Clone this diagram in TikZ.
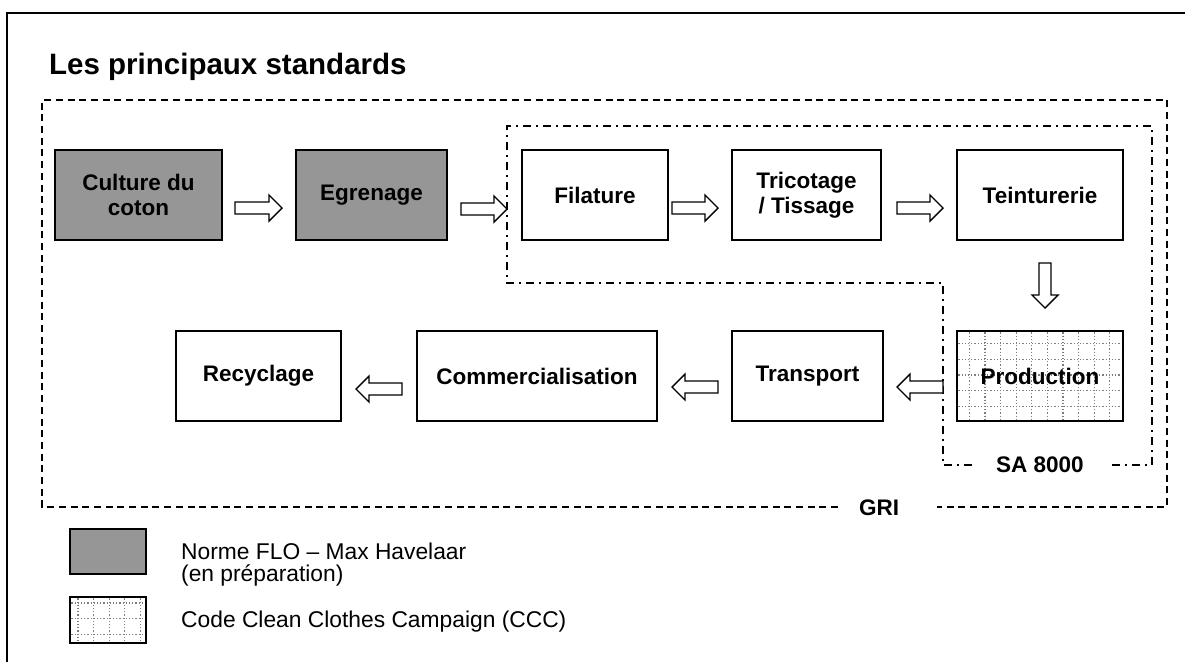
\documentclass[tikz,border=0pt]{standalone}
\usepackage{fontspec}
\setmainfont{Liberation Sans}
\usetikzlibrary{calc}
\definecolor{flogray}{RGB}{150,150,150}
\definecolor{dotgray}{RGB}{125,125,125}

\tikzset{
  stagebox/.style={draw, line width=1.5pt, fill=white, minimum height=90pt,
    inner sep=2pt, align=center, font=\fontsize{22.5}{25}\selectfont\bfseries},
  flobox/.style={stagebox, fill=flogray},
  gridline/.style={draw=dotgray, line width=1.2pt, dash pattern=on 1.2pt off 2pt},
  gridfill/.style n args={2}{path picture={
      \foreach \i in {0,...,11} {
        \draw[gridline] ($(path picture bounding box.north west)+({#1+\i*15.6},-5)$) -- ++(0,120);
      }
      \foreach \j in {0,...,6} {
        \draw[gridline] ($(path picture bounding box.north west)+(-5,{#2+\j*15.6})$) -- ++(220,0);
      }
  }},
  arrowline/.style={draw, line width=1.4pt, fill=white, line join=miter},
  griline/.style={line width=1.3pt, dash pattern=on 7pt off 4.7pt},
  saline/.style={line width=1.3pt, dash pattern=on 8pt off 5pt on 2pt off 5pt},
  lbl/.style={font=\fontsize{22.5}{25}\selectfont\bfseries, inner sep=0pt},
  legtext/.style={font=\fontsize{22.8}{25}\selectfont, inner sep=0pt, anchor=base west},
}

\newcommand{\hollowarrow}[3]{%
  \begin{scope}[shift={(#1)}, rotate=#2]
    \draw[arrowline] (0,-6) -- ({#3-13},-6) -- ({#3-13},-13) -- (#3,0)
      -- ({#3-13},13) -- ({#3-13},6) -- (0,6) -- cycle;
  \end{scope}}

\begin{document}
\begin{tikzpicture}[x=1pt, y=-1pt]
  \useasboundingbox (0,0) rectangle (1185,662);
  \fill[white] (0,0) rectangle (1185,662);

  % outer frame (only left and top visible)
  \draw[line width=2pt] (7,662) -- (7,13) -- (1185,13);

  % title
  \node[anchor=base west, inner sep=0pt, font=\fontsize{29.5}{32}\selectfont\bfseries] (title) at (49,74) {Les principaux standards};

  % GRI boundary
  \draw[griline] (838,507) -- (42,507) -- (42,100) -- (1167,100) -- (1167,507) -- (937,507);
  \node[lbl] (gri) at (879,508) {GRI};

  % SA 8000 boundary
  \draw[saline] (972,465) -- (943,465) -- (943,283) -- (507,283) -- (507,126) -- (1152,126) -- (1152,465) -- (1108,465);
  \node[lbl] (sa) at (1040,465) {SA 8000};

  % row 1
  \node[flobox, minimum width=167pt] (cult) at (138.5,195) {Culture du\\coton};
  \node[flobox, minimum width=151pt] (egr) at (371.5,195) {Egrenage};
  \node[stagebox, minimum width=146pt] (fil) at (595,195) {Filature};
  \node[stagebox, minimum width=149pt] (tri) at (806.5,195) {Tricotage\\/ Tissage};
  \node[stagebox, minimum width=166pt] (tei) at (1040,195) {Teinturerie};

  % row 2
  \node[stagebox, minimum width=165pt] (rec) at (258.5,376) {Recyclage};
  \node[stagebox, minimum width=240pt] (com) at (537,376) {Commercialisation};
  \node[stagebox, minimum width=151pt] (tra) at (807.5,376) {Transport};
  \node[stagebox, minimum width=166pt, gridfill={12.3}{12.7}] (pro) at (1040,376) {Production};

  % arrows
  \coordinate (a1) at (235,208);
  \coordinate (a2) at (461,209);
  \coordinate (a3) at (672,208);
  \coordinate (a4) at (897,208);
  \coordinate (a5) at (1045,263);
  \coordinate (a6) at (943,387);
  \coordinate (a7) at (718,387);
  \coordinate (a8) at (402,389);
  \hollowarrow{a1}{0}{47}
  \hollowarrow{a2}{0}{46}
  \hollowarrow{a3}{0}{46}
  \hollowarrow{a4}{0}{46}
  \hollowarrow{a5}{-90}{45}
  \hollowarrow{a6}{180}{46}
  \hollowarrow{a7}{180}{46}
  \hollowarrow{a8}{180}{46}

  % legend
  \node[draw, line width=1.5pt, fill=flogray, minimum width=76pt, minimum height=45pt, inner sep=0pt] (legflo) at (108,551.5) {};
  \node[draw, line width=1.5pt, fill=white, minimum width=76pt, minimum height=46pt, inner sep=0pt, gridfill={8}{6}] (legccc) at (108,620) {};
  \node[legtext] (legt1) at (181,559) {Norme FLO – Max Havelaar};
  \node[legtext] (legt2) at (181,581) {(en préparation)};
  \node[legtext] (legt3) at (181,627) {Code Clean Clothes Campaign (CCC)};
\end{tikzpicture}
\end{document}
